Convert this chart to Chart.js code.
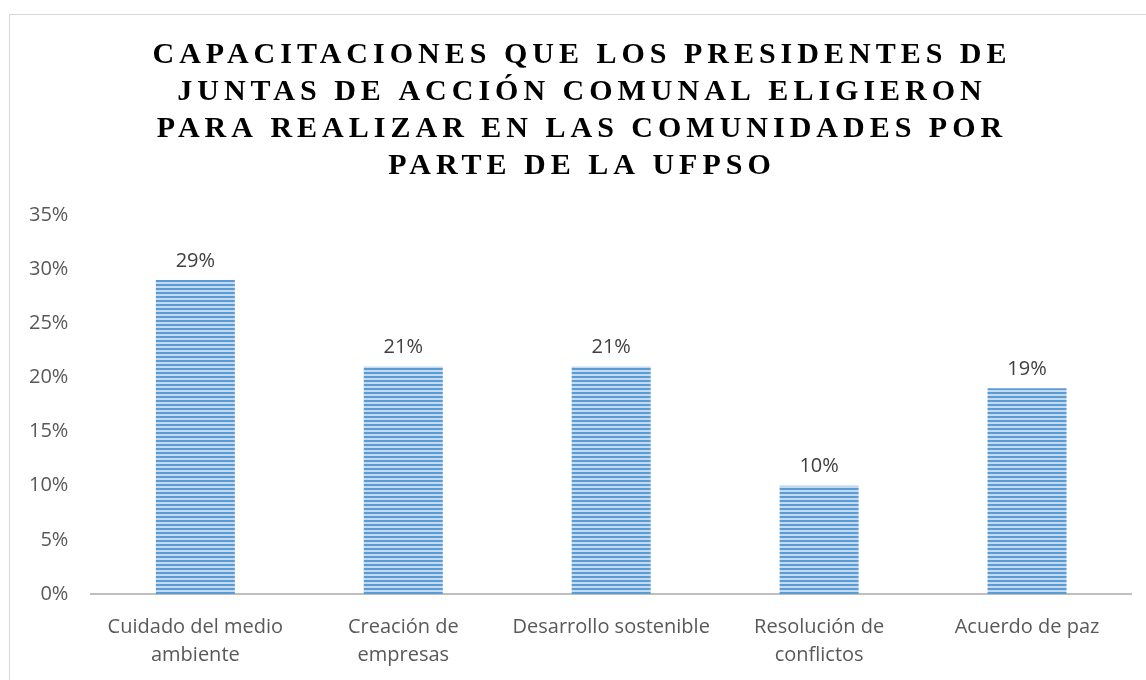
<!DOCTYPE html>
<html>
<head>
<meta charset="utf-8">
<script src="https://cdn.jsdelivr.net/npm/chart.js@4"></script>
<style>
  html, body { margin: 0; padding: 0; background: #fff; overflow: hidden; }
  #frame { position: absolute; left: 9px; top: 14px; width: 1200px; height: 700px; border: 1px solid #d9d9d9; }
  #wrap { position: absolute; left: 0; top: 0; width: 1146px; height: 680px; }
</style>
</head>
<body>
<div id="frame"></div>
<div id="wrap"><canvas id="chart"></canvas></div>
<script>
const titleLines = [
    'CAPACITACIONES QUE LOS PRESIDENTES DE',
    'JUNTAS DE ACCIÓN COMUNAL ELIGIERON',
    'PARA REALIZAR EN LAS COMUNIDADES POR',
    'PARTE DE LA UFPSO'
];
const categories = [
    ['Cuidado del medio', 'ambiente'],
    ['Creación de', 'empresas'],
    ['Desarrollo sostenible'],
    ['Resolución de', 'conflictos'],
    ['Acuerdo de paz']
];
const values = [0.29, 0.21, 0.21, 0.10, 0.19];
const yTicks = [0, 0.05, 0.10, 0.15, 0.20, 0.25, 0.30, 0.35];

// striped fill like the original
function makeStripes() {
    const c = document.createElement('canvas');
    c.width = 4; c.height = 4;
    const g = c.getContext('2d');
    g.fillStyle = '#c4daef';
    g.fillRect(0, 0, 4, 4);
    g.fillStyle = '#5b9bd5';
    g.fillRect(0, 0, 4, 2);
    return g.createPattern(c, 'repeat');
}

const titlePlugin = {
    id: 'bigTitle',
    afterDraw(chart) {
        const ctx = chart.ctx;
        ctx.save();
        ctx.font = 'bold 30px "Liberation Serif", "Times New Roman", serif';
        ctx.fillStyle = '#000';
        ctx.textAlign = 'center';
        ctx.textBaseline = 'alphabetic';
        if ('letterSpacing' in ctx) ctx.letterSpacing = '5px';
        titleLines.forEach((line, i) => {
            ctx.fillText(line, 582, 63 + i * 37);
        });
        ctx.restore();
    }
};

const valueLabels = {
    id: 'valueLabels',
    afterDatasetsDraw(chart) {
        const ctx = chart.ctx;
        const meta = chart.getDatasetMeta(0);
        ctx.save();
        ctx.font = '20px "Open Sans", sans-serif';
        ctx.fillStyle = '#404040';
        ctx.textAlign = 'center';
        ctx.textBaseline = 'bottom';
        meta.data.forEach((bar, i) => {
            ctx.fillText(Math.round(values[i] * 100) + '%', bar.x, bar.y - 9);
        });
        ctx.restore();
    }
};

const ctx = document.getElementById('chart');
new Chart(ctx, {
    type: 'bar',
    data: {
        labels: categories,
        datasets: [{
            data: values,
            backgroundColor: makeStripes(),
            borderWidth: 0,
            categoryPercentage: 1,
            barPercentage: 0.38
        }]
    },
    options: {
        responsive: true,
        maintainAspectRatio: false,
        animation: false,
        layout: { padding: { left: 6, right: 15, top: 215, bottom: 0 } },
        plugins: {
            legend: { display: false },
            tooltip: { enabled: false }
        },
        scales: {
            x: {
                grid: { display: false, drawTicks: false },
                border: { color: '#bfbfbf', width: 2 },
                afterFit(axis) { axis.height = 86; },
                ticks: {
                    color: '#595959',
                    font: { family: '"Open Sans", sans-serif', size: 20, lineHeight: 1.4 },
                    padding: 19,
                    maxRotation: 0,
                    autoSkip: false
                }
            },
            y: {
                min: 0,
                max: 0.35,
                afterBuildTicks(axis) {
                    axis.ticks = yTicks.map(v => ({ value: v }));
                },
                grid: { display: false, drawTicks: false },
                border: { display: false },
                ticks: {
                    color: '#595959',
                    font: { family: '"Open Sans", sans-serif', size: 20 },
                    padding: 23,
                    callback: v => Math.round(v * 100) + '%'
                }
            }
        }
    },
    plugins: [titlePlugin, valueLabels]
});
</script>
</body>
</html>
